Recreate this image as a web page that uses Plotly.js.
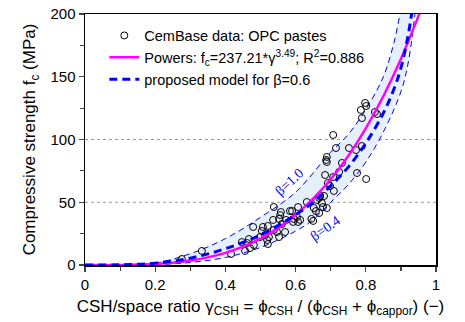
<!DOCTYPE html>
<html>
<head>
<meta charset="utf-8">
<script src="https://cdn.plot.ly/plotly-3.0.1.min.js"></script>
<style>html,body{margin:0;padding:0;background:#fff;}#plot{width:465px;height:322px;}</style>
</head>
<body>
<div id="plot"></div>
<script>
// CemBase data: OPC pastes (gamma_CSH, f_c in MPa)
const dataGamma = [0.276,0.333,0.416,0.447,0.456,0.462,0.467,0.470,0.479,0.481,0.499,0.504,0.507,0.513,0.519,0.521,0.521,0.524,0.536,0.538,0.538,0.547,0.553,0.553,0.556,0.558,0.561,0.570,0.573,0.584,0.590,0.593,0.595,0.604,0.607,0.607,0.613,0.632,0.645,0.650,0.652,0.658,0.661,0.667,0.667,0.670,0.675,0.678,0.681,0.684,0.687,0.689,0.689,0.689,0.692,0.698,0.707,0.709,0.707,0.715,0.724,0.732,0.752,0.772,0.775,0.789,0.801,0.786,0.789,0.798,0.801,0.826,0.832];
const dataFc    = [4.8,11.2,8.8,18.3,11.2,17.5,20.7,13.5,30.3,15.9,22.3,27.1,30.3,23.9,19.9,31.1,16.7,22.3,35.9,46.2,27.9,26.3,22.3,36.7,39.8,42.2,32.7,26.3,35.9,43.0,43.0,34.3,36.7,38.2,46.2,34.3,35.9,50.2,36.7,35.1,45.4,43.0,51.8,53.4,41.4,55.0,49.4,46.2,55.0,71.7,83.7,86.1,82.1,45.4,65.3,62.9,70.1,59.0,103.6,93.2,74.1,81.3,93.2,91.6,73.3,94.8,68.5,123.5,117.1,129.1,126.7,121.9,120.3];

// Powers fit curve f_c = 237.21*gamma^3.49 (values read/tabulated)
const powersGamma = [0,0.1,0.15,0.2,0.25,0.3,0.35,0.4,0.45,0.5,0.55,0.6,0.65,0.7,0.75,0.8,0.85,0.9,0.95,0.96];
const powersFc    = [0,0.08,0.32,0.86,1.88,3.55,6.08,9.68,14.6,21.1,29.4,39.9,52.8,68.3,86.9,108.9,134.5,164.2,198.3,205.7];

// Proposed model, beta = 0.6
const modelGamma = [0,0.1,0.2,0.3,0.4,0.5,0.6,0.65,0.7,0.75,0.8,0.85,0.88,0.9,0.92,0.93,0.94];
const modelFc    = [0,0.2,1.5,5.5,13,24,40,50,63,78,97,121,140,157,182,199,216];

// Band: beta = 1.0 (upper) and beta = 0.4 (lower)
const upperGamma = [0,0.1,0.2,0.3,0.4,0.5,0.6,0.7,0.75,0.8,0.85,0.88,0.9,0.91];
const upperFc    = [0,0.1,1.5,9,21,38,58,90,104,124,150,177,204,220];
const lowerGamma = [0,0.2,0.3,0.4,0.5,0.6,0.65,0.7,0.75,0.8,0.85,0.9,0.92,0.94,0.945];
const lowerFc    = [0,0.3,2,6,14,27,36,50,64,82,106,138,160,200,215];

const xTickVals = [0,0.2,0.4,0.6,0.8,1];
const xTickText = ['0','0.2','0.4','0.6','0.8','1'];
const yTickVals = [0,50,100,150,200];
const yTickText = ['0','50','100','150','200'];
const gridLevels = [50,100];

const bandX = upperGamma.concat(lowerGamma.slice().reverse());
const bandY = upperFc.concat(lowerFc.slice().reverse());

const traces = [
  {x: bandX, y: bandY, type:'scatter', mode:'none', fill:'toself', fillcolor:'#e6f0fd', showlegend:false, hoverinfo:'skip'},
  {x: upperGamma, y: upperFc, type:'scatter', mode:'lines', line:{color:'#0000ff', width:1, dash:'6px,4px', shape:'spline'}, showlegend:false},
  {x: lowerGamma, y: lowerFc, type:'scatter', mode:'lines', line:{color:'#0000ff', width:1, dash:'6px,4px', shape:'spline'}, showlegend:false},
  {x: dataGamma, y: dataFc, type:'scatter', mode:'markers', name:'CemBase data: OPC pastes',
   marker:{symbol:'circle-open', size:7, color:'#000', line:{width:1, color:'#000'}}},
  {x: powersGamma, y: powersFc, type:'scatter', mode:'lines', name:'Powers: f<sub>c</sub>=237.21*γ<sup>3.49</sup>; R<sup>2</sup>=0.886',
   line:{color:'#ff00ff', width:2.5, shape:'spline'}},
  {x: modelGamma, y: modelFc, type:'scatter', mode:'lines', name:'proposed model for β=0.6',
   line:{color:'#0000ff', width:3, dash:'8px,5px', shape:'spline'}}
];

const shapes = gridLevels.map(v => ({type:'line', xref:'paper', x0:0, x1:1, yref:'y', y0:v, y1:v,
  line:{color:'#999', width:1, dash:'dot'}, layer:'below'}));

const layout = {
  width:465, height:322,
  margin:{l:85, r:29, t:14, b:57},
  paper_bgcolor:'#fff', plot_bgcolor:'rgba(0,0,0,0)',
  font:{family:'Liberation Sans, Arial, sans-serif', size:15, color:'#000'},
  showlegend:true,
  legend:{x:0.055, xanchor:'left', y:0.978, yanchor:'top', bgcolor:'rgba(0,0,0,0)', font:{size:14.5}, itemwidth:30},
  xaxis:{range:[0,1], tickvals:xTickVals, ticktext:xTickText, ticks:'outside', ticklen:5, tickwidth:1.2,
    minor:{dtick:0.1, ticks:'outside', ticklen:4, tickwidth:1.2, showgrid:false},
    showline:true, linewidth:1.5, linecolor:'#000', mirror:true, showgrid:false, zeroline:false,
    title:{text:'CSH/space ratio γ<sub>CSH</sub> = ϕ<sub>CSH</sub> / (ϕ<sub>CSH</sub> + ϕ<sub>cappor</sub>) (−)', font:{size:17}, standoff:8}},
  yaxis:{range:[0,200], tickvals:yTickVals, ticktext:yTickText, ticks:'outside', ticklen:5, tickwidth:1.2,
    minor:{dtick:25, ticks:'outside', ticklen:4, tickwidth:1.2, showgrid:false},
    showline:true, linewidth:1.5, linecolor:'#000', mirror:true, showgrid:false, zeroline:false,
    title:{text:'Compressive strength f<sub>c</sub> (MPa)', font:{size:17}, standoff:10}},
  shapes: shapes,
  annotations:[
    {x:0.584, y:66.4, xref:'x', yref:'y', text:'β=1.0', showarrow:false, textangle:-43,
     font:{family:'Liberation Serif, Times New Roman, serif', size:14, color:'#0000ff'}},
    {x:0.684, y:29.2, xref:'x', yref:'y', text:'β=0.4', showarrow:false, textangle:-35,
     font:{family:'Liberation Serif, Times New Roman, serif', size:14, color:'#0000ff'}}
  ]
};

Plotly.newPlot('plot', traces, layout, {displayModeBar:false, staticPlot:true});
</script>
</body>
</html>
